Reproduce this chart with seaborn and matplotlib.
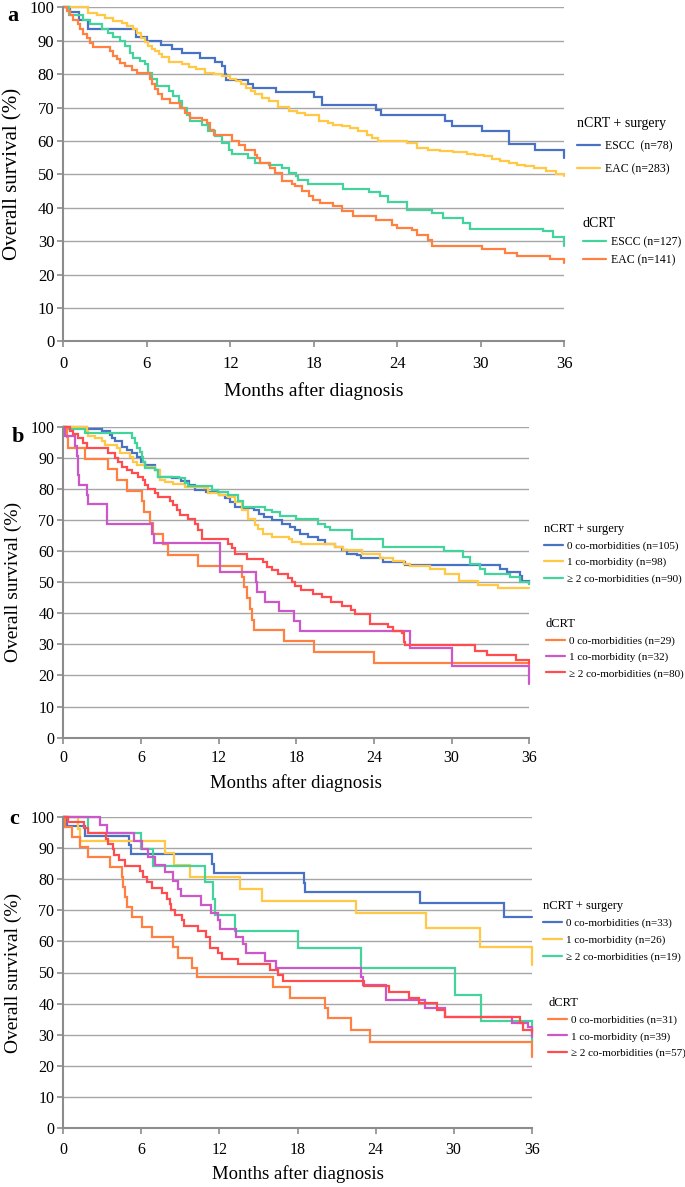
import matplotlib
matplotlib.use("Agg")
import matplotlib.pyplot as plt
from matplotlib.lines import Line2D
import pandas as pd
import seaborn as sns

# ---------------------------------------------------------------- data
month_ticks = [0, 6, 12, 18, 24, 30, 36]
survival_ticks = [0, 10, 20, 30, 40, 50, 60, 70, 80, 90, 100]

# ---- panel a : histology
a_escc_ncrt_t = [0, 0.5, 1.1, 1.8, 5.2, 6.0, 7.0, 7.8, 8.5, 9.8, 10.9, 11.4, 11.6, 11.7,
                 13.3, 13.6, 15.3, 18.0, 18.6, 22.5, 22.8, 27.4, 27.9, 30.1, 32.0, 33.9, 36.0]
a_escc_ncrt_s = [100, 98.7, 96.2, 93.6, 91.1, 89.9, 88.7, 87.4, 86.2, 84.9, 83.7, 82.4, 80.0, 78.2,
                 77.0, 75.7, 74.5, 73.2, 70.6, 69.4, 67.7, 66.0, 64.6, 62.9, 59.2, 57.2, 55.0]

a_eac_ncrt_t = [0, 1.8, 2.4, 3.0, 3.6, 4.2, 4.6, 5.0, 5.3, 5.6, 5.9, 6.1, 6.4, 6.6, 6.9, 7.1, 7.6,
                8.5, 9.0, 9.5, 10.2, 10.8, 11.4, 12.0, 12.4, 12.8, 13.1, 13.5, 13.8, 14.3, 14.8,
                15.4, 16.2, 16.8, 17.4, 18.4, 19.0, 19.4, 20.0, 20.6, 21.2, 21.8, 22.2, 22.6,
                24.7, 25.4, 26.2, 27.1, 28.0, 29.0, 29.6, 30.2, 30.8, 31.4, 32.0, 32.6, 33.2,
                33.8, 34.7, 35.4, 36.0]
a_eac_ncrt_s = [100, 98.4, 97.6, 96.9, 96.0, 95.2, 94.3, 93.4, 92.2, 90.9, 89.6, 88.4, 87.6, 86.9,
                86.0, 85.2, 83.7, 82.9, 82.2, 81.6, 80.4, 79.9, 79.4, 78.6, 77.9, 76.9, 75.9, 74.9,
                73.9, 72.9, 71.9, 70.2, 68.9, 68.4, 67.9, 65.9, 65.4, 64.9, 64.4, 63.9, 62.9, 61.9,
                60.9, 59.9, 59.4, 57.9, 57.4, 56.9, 56.6, 56.2, 55.9, 55.4, 54.6, 53.9, 53.4, 52.9,
                52.4, 51.9, 50.9, 50.2, 49.4]

a_escc_dcrt_t = [0, 0.4, 1.4, 1.9, 2.8, 3.2, 3.6, 4.1, 4.4, 4.8, 5.0, 5.5, 5.9, 6.1, 6.4, 6.7,
                 7.6, 7.9, 8.3, 8.5, 8.9, 9.1, 10.0, 10.4, 10.9, 11.4, 11.9, 12.1, 13.3, 13.8,
                 14.8, 15.7, 16.2, 16.7, 16.9, 17.6, 20.1, 22.0, 22.75, 23.35, 24.67, 26.5,
                 27.3, 28.7, 29.2, 34.5, 35.2, 36.0]
a_escc_dcrt_s = [100, 97.7, 96.2, 94.9, 93.6, 92.4, 91.1, 89.9, 88.4, 86.4, 84.9, 83.9, 82.9, 80.2,
                 78.4, 76.4, 74.9, 73.4, 71.9, 69.9, 67.9, 65.9, 64.9, 62.9, 61.4, 59.4, 57.4, 56.2,
                 54.9, 53.4, 52.9, 51.9, 50.4, 49.4, 48.2, 47.2, 45.7, 44.7, 43.4, 41.7, 39.2, 38.4,
                 36.9, 35.4, 33.7, 32.9, 31.1, 28.4]

a_eac_dcrt_t = [0, 0.24, 0.48, 0.72, 1.08, 1.2, 1.44, 1.68, 1.92, 2.16,
                3.36, 3.6, 3.84, 4.08, 4.44, 4.92, 5.28, 6.24, 6.36, 6.6,
                6.84, 7.08, 7.68, 8.4, 8.76, 9.12, 9.96, 10.32, 10.56, 10.8,
                12.12, 12.6, 13.08, 13.8, 13.92, 14.16, 14.88, 15.24, 15.72, 16.44,
                16.68, 17.16, 17.64, 17.96, 18.44, 19.4, 20.0, 20.8, 22.5, 23.6,
                23.95, 25.03, 25.39, 26.22, 26.46, 30.06, 31.73, 32.57, 34.96, 36.0]
a_eac_dcrt_s = [100, 98.9, 97.6, 96.2, 94.9, 93.4, 91.9, 90.7, 89.4, 88.1,
                86.9, 85.4, 84.4, 83.4, 82.4, 81.2, 80.2, 78.4, 76.9, 75.4,
                73.9, 72.4, 71.2, 69.9, 68.4, 66.9, 66.2, 65.4, 63.4, 61.9,
                59.9, 58.9, 57.4, 55.9, 54.9, 53.4, 51.9, 50.4, 47.9, 47.2,
                46.4, 44.9, 43.4, 42.4, 41.4, 40.4, 39.1, 37.6, 36.4, 34.9,
                33.9, 33.2, 31.9, 30.4, 28.4, 27.6, 26.4, 25.6, 24.6, 23.4]

# ---- panel b : co-morbidities, whole cohort
b_ncrt0_t = [0, 1.8, 3.0, 3.6, 3.75, 4.0, 4.5, 4.9, 5.3, 5.7, 6.0, 6.3, 7.1, 7.35, 8.4, 9.1, 9.7,
             10.2, 11.0, 12.0, 12.5, 12.9, 13.3, 13.8, 14.7, 15.1, 15.5, 16.1, 16.9, 17.5, 17.9,
             18.3, 18.9, 19.7, 20.2, 21.0, 21.5, 21.9, 22.7, 23.0, 24.7, 26.4, 33.7, 34.3, 35.3,
             35.4, 36.0]
b_ncrt0_s = [100, 99.1, 98.4, 97.3, 96.2, 95.2, 93.5, 92.5, 91.4, 90.3, 88.7, 87.6, 86.0, 83.9,
             83.3, 82.5, 81.2, 79.6, 79.0, 78.0, 76.9, 75.8, 74.2, 73.7, 73.1, 72.0, 71.0, 69.9,
             68.8, 67.7, 66.7, 65.6, 64.5, 63.4, 62.4, 61.3, 60.2, 59.0, 58.6, 57.7, 56.5, 55.5,
             54.3, 53.2, 52.0, 50.5, 49.5]

b_ncrt1_t = [0, 1.8, 1.93, 2.45, 2.96, 3.22, 4.12, 4.38, 5.15, 5.4, 5.67, 6.3, 7.08, 7.47, 7.85,
             8.5, 9.4, 10.9, 11.2, 12.0, 12.75, 13.26, 13.78, 14.3, 14.8, 15.07, 15.45, 16.1,
             17.4, 17.64, 18.4, 21.0, 21.6, 23.1, 24.5, 25.5, 26.3, 26.8, 28.3, 29.5, 30.6,
             32.0, 33.6, 36.0]
b_ncrt1_s = [100, 98.4, 96.8, 96.2, 95.2, 94.1, 93.0, 91.4, 90.3, 88.7, 87.6, 87.1, 86.0, 82.8,
             82.3, 81.4, 80.6, 80.1, 78.5, 78.0, 77.4, 75.8, 73.1, 70.4, 68.3, 67.2, 65.6, 64.5,
             63.8, 62.9, 62.4, 61.3, 60.2, 59.1, 57.8, 56.8, 55.9, 55.2, 54.1, 52.5, 50.5, 49.2,
             48.0, 48.0]

b_ncrt2_t = [0, 0.39, 1.67, 5.28, 5.54, 5.67, 5.92, 6.05, 6.18, 6.3, 7.08, 7.34, 8.9, 9.4, 9.66,
             11.46, 11.98, 12.75, 13.52, 13.9, 15.58, 16.1, 16.74, 18.0, 19.7, 20.2, 20.6, 22.3,
             24.7, 29.4, 30.9, 31.4, 32.2, 32.6, 34.5, 35.3, 36.0]
b_ncrt2_s = [100, 99.1, 97.8, 96.2, 94.6, 93.0, 91.9, 90.3, 88.7, 86.6, 86.0, 83.9, 83.3, 81.7,
             81.0, 79.6, 78.8, 78.0, 76.0, 74.2, 73.1, 72.4, 71.3, 70.4, 68.8, 67.7, 66.7, 63.8,
             61.3, 60.0, 58.1, 55.9, 54.3, 52.7, 51.6, 50.0, 49.5]

b_dcrt0_t = [0, 0.3, 0.4, 1.67, 3.43, 4.12, 4.89, 6.1, 6.26, 6.7, 6.95, 7.73, 8.11, 10.43, 13.83,
             13.98, 14.16, 14.42, 14.55, 14.76, 17.07, 19.39, 24.0, 36.0]
b_dcrt0_s = [100, 96.6, 93.1, 89.7, 86.2, 82.8, 79.3, 75.9, 72.4, 69.0, 65.5, 62.1, 58.6, 55.2,
             51.7, 48.3, 44.8, 41.4, 37.9, 34.5, 31.0, 27.6, 24.1, 24.1]

b_dcrt1_t = [0, 0.15, 0.9, 1.03, 1.1, 1.16, 1.21, 1.85, 1.93, 3.4, 6.82, 7.03, 12.1, 14.9, 15.0,
             15.6, 16.7, 17.8, 18.3, 26.8, 30.0, 36.0]
b_dcrt1_s = [100, 96.9, 93.75, 90.6, 87.5, 84.4, 81.25, 78.1, 75.0, 68.75, 65.6, 62.5, 53.1, 50.0,
             46.9, 43.75, 40.6, 37.5, 34.4, 28.7, 22.9, 17.2]

b_dcrt2_t = [0, 0.52, 0.77, 1.16, 1.55, 1.8, 3.48, 4.0, 4.25, 4.5, 4.9, 5.28, 5.8, 6.18, 6.3,
             6.57, 7.08, 7.34, 8.24, 8.5, 8.76, 9.0, 9.66, 10.17, 10.43, 10.69, 12.75, 13.0,
             13.26, 14.16, 15.45, 15.7, 16.1, 16.6, 17.38, 17.64, 17.9, 18.4, 19.3, 19.96, 20.7,
             21.5, 22.2, 22.5, 23.7, 25.1, 25.5, 26.2, 26.3, 26.4, 31.8, 32.7, 35.0, 36.0]
b_dcrt2_s = [100, 98.6, 97.5, 96.2, 94.6, 93.2, 91.4, 89.8, 88.5, 87.1, 86.0, 84.9, 83.9, 82.8,
             81.2, 79.9, 78.5, 77.4, 76.0, 74.7, 73.1, 71.5, 70.2, 68.8, 66.7, 64.0, 62.4, 60.8,
             59.1, 57.5, 56.5, 54.8, 53.8, 52.7, 51.3, 50.0, 48.7, 47.6, 46.2, 45.2, 43.5, 42.3,
             40.9, 39.8, 36.6, 35.5, 34.4, 33.7, 30.6, 29.8, 28.0, 26.6, 25.0, 23.7]

# ---- panel c : co-morbidities, ESCC
c_ncrt0_t = [0, 0.26, 1.66, 5.04, 5.2, 11.4, 11.6, 18.5, 18.6, 27.4, 33.9, 36.0]
c_ncrt0_s = [100, 97.0, 93.9, 90.9, 87.9, 84.8, 81.8, 78.8, 75.8, 72.2, 67.7, 67.7]

c_ncrt1_t = [0, 1.1, 1.28, 7.8, 8.5, 9.73, 13.57, 15.28, 22.47, 27.9, 32.04, 36.0]
c_ncrt1_s = [100, 96.2, 92.3, 88.5, 84.6, 80.8, 76.9, 73.1, 69.0, 64.2, 58.3, 52.4]

c_ncrt2_t = [0, 1.92, 5.97, 6.91, 10.88, 11.5, 11.65, 13.18, 18.0, 22.85, 30.1, 32.1, 36.0]
c_ncrt2_s = [100, 94.7, 89.5, 84.2, 78.9, 73.7, 68.4, 63.2, 57.9, 51.5, 42.9, 34.3, 27.8]

c_dcrt0_t = [0, 0.13, 0.64, 1.28, 1.92, 3.58, 4.48, 4.6, 4.74, 4.86, 5.25, 6.07, 6.78, 8.45,
             8.83, 9.86, 10.24, 16.13, 17.4, 20.1, 20.35, 22.1, 23.57, 36.0]
c_dcrt0_s = [100, 96.8, 93.5, 90.3, 87.1, 83.9, 80.6, 77.4, 74.2, 71.0, 67.7, 64.5, 61.3, 58.1,
             54.8, 51.6, 48.4, 45.2, 41.9, 38.7, 35.5, 31.6, 27.8, 23.0]

c_dcrt1_t = [0, 2.82, 3.33, 5.45, 6.07, 6.53, 7.04, 7.81, 8.45, 8.83, 9.04, 10.62, 11.39, 11.9,
             12.03, 13.31, 13.82, 14.08, 15.49, 16.38, 22.85, 23.05, 24.77, 27.83, 29.36, 34.47,
             35.74, 36.0]
c_dcrt1_s = [100, 97.4, 94.9, 92.3, 89.7, 87.2, 84.6, 82.1, 79.5, 76.9, 74.4, 71.8, 69.2, 66.7,
             64.1, 61.5, 59.0, 56.4, 53.8, 51.3, 48.7, 46.0, 41.2, 38.5, 35.8, 33.7, 32.6, 29.4]

c_dcrt2_t = [0, 0.38, 1.6, 1.92, 3.3, 3.46, 3.84, 3.92, 4.3, 4.74, 5.89, 6.14, 6.4, 6.78, 7.55,
             8.0, 8.19, 8.3, 8.6, 9.09, 9.3, 10.37, 11.0, 11.26, 11.9, 12.16, 13.44, 15.87, 16.5,
             16.9, 23.1, 25.0, 26.55, 27.3, 28.7, 29.36, 35.1, 35.36, 36.0]
c_dcrt2_s = [100, 98.2, 96.5, 94.7, 93.0, 91.2, 89.5, 87.7, 86.0, 84.2, 82.5, 80.7, 78.9, 77.2,
             75.4, 73.7, 71.9, 70.2, 68.4, 66.7, 64.9, 63.2, 61.4, 57.9, 56.1, 54.4, 52.6, 50.9,
             49.1, 47.4, 45.8, 43.9, 41.7, 40.1, 38.0, 35.8, 33.7, 31.6, 31.0]

# legend labels
a_ncrt_labels = ["ESCC  (n=78)", "EAC (n=283)"]
a_dcrt_labels = ["ESCC (n=127)", "EAC (n=141)"]
b_ncrt_labels = ["0 co-morbidities (n=105)", "1 co-morbidity (n=98)", "\u2265 2 co-morbidities (n=90)"]
b_dcrt_labels = ["0 co-morbidities (n=29)", "1 co-morbidity (n=32)", "\u2265 2 co-morbidities (n=80)"]
c_ncrt_labels = ["0 co-morbidities (n=33)", "1 co-morbidity (n=26)", "\u2265 2 co-morbidities (n=19)"]
c_dcrt_labels = ["0 co-morbidities (n=31)", "1 co-morbidity (n=39)", "\u2265 2 co-morbidities (n=57)"]

# ---------------------------------------------------------------- style
BLUE, YELLOW, GREEN = "#4A72C4", "#FFC845", "#45D39C"
ORANGE, MAGENTA, RED = "#FF8040", "#CC57C8", "#FF4D4F"
GRID, SPINE = "#A6A6A6", "#8C8C8C"
LW = 1.6

sns.set_style("white")
plt.rcParams["font.family"] = ["Liberation Serif", "DejaVu Serif"]
plt.rcParams["text.color"] = "black"

W, H = 685, 1187
fig = plt.figure(figsize=(W / 100, H / 100), dpi=100)


def axes_px(left, right, top, bottom):
    return fig.add_axes([left / W, 1 - bottom / H, (right - left) / W, (bottom - top) / H])


def draw_panel(ax, curves):
    frames = [pd.DataFrame({"month": t, "survival": s, "curve": name})
              for name, t, s, _ in curves]
    df = pd.concat(frames, ignore_index=True)
    palette = {name: col for name, _, _, col in curves}
    sns.lineplot(data=df, x="month", y="survival", hue="curve", palette=palette,
                 estimator=None, sort=False, drawstyle="steps-post", linewidth=LW,
                 legend=False, ax=ax)
    for ln in ax.lines:
        ln.set_clip_on(False)
        ln.set_solid_joinstyle("miter")


def style_axes(ax, tick_size, xpad):
    ax.set_xlim(0, 36)
    ax.set_ylim(0, 100)
    ax.set_xticks(month_ticks)
    ax.set_yticks(survival_ticks)
    ax.set_xlabel("")
    ax.set_ylabel("")
    ax.yaxis.grid(True, color=GRID, linewidth=1.0)
    ax.xaxis.grid(False)
    ax.set_axisbelow(True)
    for side in ("top", "right"):
        ax.spines[side].set_visible(False)
    for side in ("left", "bottom"):
        ax.spines[side].set_visible(True)
        ax.spines[side].set_color(SPINE)
        ax.spines[side].set_linewidth(1.5)
    ax.tick_params(axis="both", direction="out", length=4, width=1.2, color=SPINE,
                   labelsize=tick_size, labelcolor="black", left=True, bottom=True)
    ax.tick_params(axis="x", pad=xpad)
    ax.tick_params(axis="y", pad=2.5)


def add_legends(ax, groups):
    legs = []
    for title, labels, colors, x, y, fs, tfs, hl, ls, htp in groups:
        handles = [Line2D([], [], color=c, lw=LW) for c in colors]
        leg = ax.legend(handles, labels, title=title, loc="upper left", bbox_to_anchor=(x, y),
                        frameon=False, fontsize=fs, title_fontsize=tfs, handlelength=hl,
                        labelspacing=ls, handletextpad=htp, borderpad=0, borderaxespad=0,
                        alignment="left")
        legs.append(leg)
    for leg in legs[:-1]:
        ax.add_artist(leg)


def panel_text(ax_box, letter, letter_xy, xlabel_base, ysize, xsize):
    left, right, top, bottom = ax_box
    fig.text(letter_xy[0] / W, 1 - letter_xy[1] / H, letter, fontsize=16, fontweight="bold",
             ha="left", va="center")
    fig.text(13 / W, 1 - ((top + bottom) / 2) / H, "Overall survival (%)", rotation=90,
             fontsize=ysize, ha="center", va="center")
    fig.text(((left + right) / 2) / W, 1 - xlabel_base / H, "Months after diagnosis",
             fontsize=xsize, ha="center", va="baseline")


# ---- panel a
box_a = (63.3, 564.3, 7.3, 341.3)
ax_a = axes_px(*box_a)
draw_panel(ax_a, [("a_escc_ncrt", a_escc_ncrt_t, a_escc_ncrt_s, BLUE),
                  ("a_eac_ncrt", a_eac_ncrt_t, a_eac_ncrt_s, YELLOW),
                  ("a_escc_dcrt", a_escc_dcrt_t, a_escc_dcrt_s, GREEN),
                  ("a_eac_dcrt", a_eac_dcrt_t, a_eac_dcrt_s, ORANGE)])
style_axes(ax_a, 12, 6.5)
add_legends(ax_a, [("nCRT + surgery", a_ncrt_labels, [BLUE, YELLOW], 1.025, 0.672,
                    8.5, 10, 2.0, 0.9, 0.42),
                   ("dCRT", a_dcrt_labels, [GREEN, ORANGE], 1.037, 0.372,
                    8.5, 10, 2.0, 0.5, 0.42)])
panel_text(box_a, "a", (7, 16), 396, 15, 14)

# ---- panel b
box_b = (63.3, 529.3, 426.5, 737.7)
ax_b = axes_px(*box_b)
draw_panel(ax_b, [("b_ncrt0", b_ncrt0_t, b_ncrt0_s, BLUE),
                  ("b_ncrt1", b_ncrt1_t, b_ncrt1_s, YELLOW),
                  ("b_ncrt2", b_ncrt2_t, b_ncrt2_s, GREEN),
                  ("b_dcrt0", b_dcrt0_t, b_dcrt0_s, ORANGE),
                  ("b_dcrt1", b_dcrt1_t, b_dcrt1_s, MAGENTA),
                  ("b_dcrt2", b_dcrt2_t, b_dcrt2_s, RED)])
style_axes(ax_b, 11.5, 4.8)
add_legends(ax_b, [("nCRT + surgery", b_ncrt_labels, [BLUE, YELLOW, GREEN], 1.0315, 0.690,
                    8, 9, 1.7, 0.56, 0.4),
                   ("dCRT", b_dcrt_labels, [ORANGE, MAGENTA, RED], 1.0358, 0.385,
                    8, 9, 1.7, 0.56, 0.4)])
panel_text(box_b, "b", (12, 437), 788, 14, 13.5)

# ---- panel c
box_c = (63.3, 531.7, 816.7, 1128.3)
ax_c = axes_px(*box_c)
draw_panel(ax_c, [("c_ncrt0", c_ncrt0_t, c_ncrt0_s, BLUE),
                  ("c_ncrt1", c_ncrt1_t, c_ncrt1_s, YELLOW),
                  ("c_ncrt2", c_ncrt2_t, c_ncrt2_s, GREEN),
                  ("c_dcrt0", c_dcrt0_t, c_dcrt0_s, ORANGE),
                  ("c_dcrt1", c_dcrt1_t, c_dcrt1_s, MAGENTA),
                  ("c_dcrt2", c_dcrt2_t, c_dcrt2_s, RED)])
style_axes(ax_c, 11.5, 6.0)
add_legends(ax_c, [("nCRT + surgery", c_ncrt_labels, [BLUE, YELLOW, GREEN], 1.0241, 0.734,
                    8, 9, 1.7, 0.6, 0.4),
                   ("dCRT", c_dcrt_labels, [ORANGE, MAGENTA, RED], 1.0348, 0.421,
                    8, 9, 1.7, 0.56, 0.4)])
panel_text(box_c, "c", (9, 819), 1179, 14, 13.5)

fig.savefig("out.png", dpi=100)
